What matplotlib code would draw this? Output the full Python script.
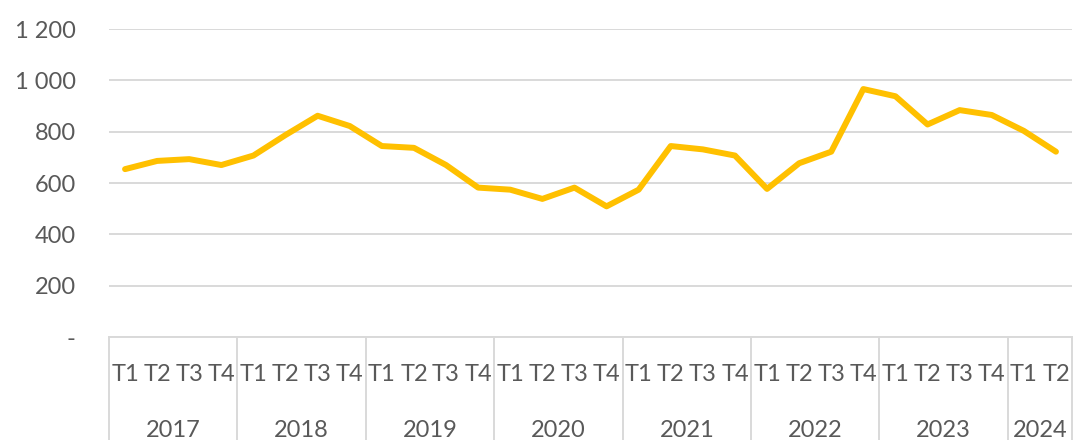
import matplotlib
matplotlib.use("Agg")
import matplotlib.pyplot as plt
import matplotlib.transforms as mtransforms

plt.rcParams['font.family'] = ['Lato', 'DejaVu Sans']

years = ["2017", "2018", "2019", "2020", "2021", "2022", "2023", "2024"]
quarters_per_year = [4, 4, 4, 4, 4, 4, 4, 2]
quarter_labels = ["T1", "T2", "T3", "T4"]
values = [654, 686, 693, 670, 707, 787, 862, 822,
          744, 737, 670, 582, 574, 538, 582, 509,
          574, 744, 731, 707, 577, 677, 722, 966,
          938, 828, 884, 865, 803, 722]
yticks = [0, 200, 400, 600, 800, 1000, 1200]
ytick_labels = ["-", "200", "400", "600", "800", "1 000", "1 200"]

W, H = 1073, 440
fig = plt.figure(figsize=(W / 100, H / 100), dpi=100)
ax = fig.add_axes([109 / W, (H - 337) / H, (1072 - 109) / W, (337 - 29) / H])

text_color = "#595959"
grid_color = "#D9D9D9"
fs = 17

xs = list(range(len(values)))
ax.plot(xs, values, color="#FFC000", lw=4.3, solid_joinstyle="round",
        solid_capstyle="round", zorder=3)

ax.set_xlim(-0.5, len(values) - 0.5)
ax.set_ylim(0, 1200)
ax.set_yticks(yticks)
ax.set_yticklabels(ytick_labels, fontsize=fs, color=text_color)
ax.tick_params(axis="y", length=0, pad=24)
ax.yaxis.grid(True, color=grid_color, lw=1.4)
ax.set_axisbelow(True)
for s in ["top", "right", "left"]:
    ax.spines[s].set_visible(False)
ax.spines["bottom"].set_color(grid_color)
ax.spines["bottom"].set_linewidth(1.4)

# quarter labels
qlabels = []
for n in quarters_per_year:
    qlabels += quarter_labels[:n]
ax.set_xticks(xs)
ax.set_xticklabels([])
ax.tick_params(axis="x", length=0)

trans = mtransforms.blended_transform_factory(ax.transData, ax.transAxes)
for x, q in zip(xs, qlabels):
    ax.text(x, -37 / 308, q, transform=trans, ha="center", va="center",
            fontsize=fs, color=text_color)

# year labels and separators
start = 0
bounds = [-0.5]
for y, n in zip(years, quarters_per_year):
    center = start + (n - 1) / 2
    ax.text(center, -93 / 308, y, transform=trans, ha="center", va="center",
            fontsize=fs, color=text_color)
    start += n
    bounds.append(start - 0.5)
for b in bounds:
    ax.plot([b, b], [0, -0.5], transform=trans, color=grid_color, lw=1.4,
            clip_on=False)

fig.savefig("out.png", dpi=100)
